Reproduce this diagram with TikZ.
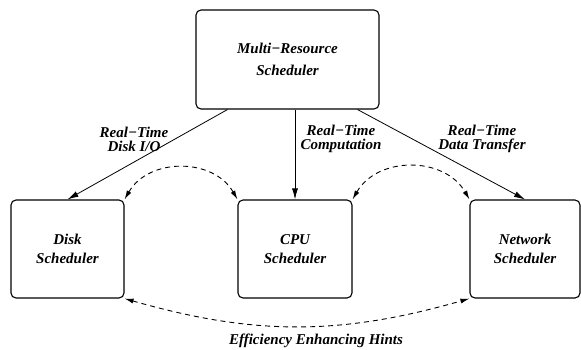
\documentclass[tikz,border=0pt]{standalone}
\usepackage{fontspec}
\setmainfont{Liberation Serif}
\usetikzlibrary{arrows.meta}
\begin{document}
\begin{tikzpicture}[x=1pt,y=-1pt,
  box/.style={draw,line width=1.1pt,rounded corners=5pt,inner sep=0pt,align=center,
    font=\fontsize{15}{19}\selectfont\bfseries\itshape},
  lbl/.style={align=center,inner sep=0pt,font=\fontsize{15}{14}\selectfont\bfseries\itshape},
  flow/.style={line width=0.8pt,-{Latex[length=11pt,width=6pt]}},
  hint/.style={line width=0.9pt,dash pattern=on 5pt off 4pt,
    {Latex[length=9pt,width=5pt]}-{Latex[length=9pt,width=5pt]}}]
\useasboundingbox (0,0) rectangle (581,349);
\node[box,minimum width=183pt,minimum height=99pt,font=\fontsize{15}{22}\selectfont\bfseries\itshape] (top) at (287.5,59.5) {Multi−Resource\\Scheduler};
\node[box,minimum width=113pt,minimum height=98pt] (disk) at (67.5,249) {Disk\\Scheduler};
\node[box,minimum width=114pt,minimum height=98pt] (cpu) at (295,249) {CPU\\Scheduler};
\node[box,minimum width=110pt,minimum height=98pt] (network) at (525,249) {Network\\Scheduler};

\draw[flow] ([xshift=32pt]top.south west) -- (disk.north);
\draw[flow] (cpu.north |- top.south) -- (cpu.north);
\draw[flow] ([xshift=-22pt]top.south east) -- (network.north);

\draw[hint] (disk.north east) to[bend left=60,looseness=1.1] (cpu.north west);
\draw[hint] (cpu.north east) to[bend left=60,looseness=1.1] (network.north west);
\draw[hint] (disk.south east) to[bend right=16] (network.south west);

\node[lbl] (l1) at (134,139) {Real−Time\\Disk I/O};
\node[lbl] (l2) at (341,139) {Real−Time\\Computation};
\node[lbl] (l3) at (482,139) {Real−Time\\Data Transfer};
\node[lbl] (l4) at (316,341) {Efficiency Enhancing Hints};
\end{tikzpicture}
\end{document}
